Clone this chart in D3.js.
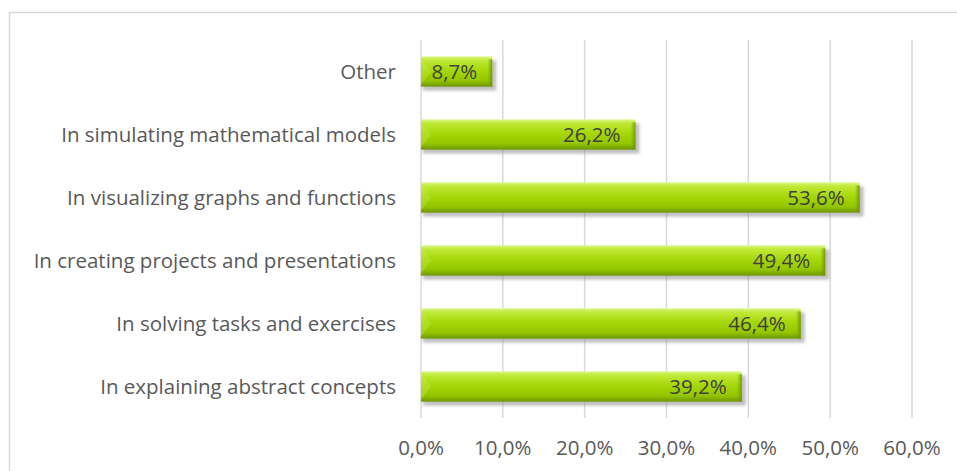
<!DOCTYPE html>
<html>
<head>
<meta charset="utf-8">
<script src="https://cdn.jsdelivr.net/npm/d3@7"></script>
<style>
  html, body { margin: 0; padding: 0; background: #fff; }
  svg text { font-family: "Open Sans", "Lato", sans-serif; }
</style>
</head>
<body>
<svg id="chart"></svg>
<script>
// data
const categories = [
  "Other",
  "In simulating mathematical models",
  "In visualizing graphs and functions",
  "In creating projects and presentations",
  "In solving tasks and exercises",
  "In explaining abstract concepts"
];
const values = [8.7, 26.2, 53.6, 49.4, 46.4, 39.2];
const ticks = [0, 10, 20, 30, 40, 50, 60];

const W = 957, H = 471;
const plot = { left: 421, right: 912, top: 40, bottom: 418 };
const fontSize = 20.5;

const svg = d3.select("#chart").attr("width", W).attr("height", H);

// chart frame (clipped by the window on the right and bottom)
svg.append("rect")
  .attr("x", 9.5).attr("y", 12.5)
  .attr("width", W + 10).attr("height", H + 10)
  .attr("fill", "#fff")
  .attr("stroke", "#d9d9d9").attr("stroke-width", 1.5);

const defs = svg.append("defs");
const grad = defs.append("linearGradient")
  .attr("id", "barGrad").attr("x1", 0).attr("y1", 0).attr("x2", 0).attr("y2", 1);
[["0%", "#dcf78a"], ["12%", "#c0ea3a"], ["45%", "#a6d80a"], ["80%", "#94c600"], ["100%", "#6f9600"]]
  .forEach(s => grad.append("stop").attr("offset", s[0]).attr("stop-color", s[1]));

const endGrad = defs.append("linearGradient")
  .attr("id", "endGrad").attr("x1", 0).attr("y1", 0).attr("x2", 1).attr("y2", 0);
endGrad.append("stop").attr("offset", "0%").attr("stop-color", "#7fa800").attr("stop-opacity", 0);
endGrad.append("stop").attr("offset", "100%").attr("stop-color", "#6a8f00").attr("stop-opacity", 0.9);

const blur = defs.append("filter").attr("id", "shadow")
  .attr("x", "-10%").attr("y", "-30%").attr("width", "130%").attr("height", "180%");
blur.append("feGaussianBlur").attr("stdDeviation", 1.8);

const x = d3.scaleLinear().domain([0, 60]).range([plot.left, plot.right]);
const y = d3.scaleBand().domain(categories).range([plot.top, plot.bottom]).paddingInner(0.52).paddingOuter(0.26);

// gridlines
svg.append("g")
  .selectAll("line")
  .data(ticks)
  .join("line")
  .attr("x1", d => x(d)).attr("x2", d => x(d))
  .attr("y1", plot.top).attr("y2", plot.bottom)
  .attr("stroke", "#d9d9d9").attr("stroke-width", 1.5);

// x axis tick labels
svg.append("g")
  .selectAll("text")
  .data(ticks)
  .join("text")
  .attr("x", d => x(d))
  .attr("y", 455)
  .attr("text-anchor", "middle")
  .attr("font-size", fontSize)
  .attr("fill", "#595959")
  .text(d => d3.format(".1f")(d).replace(".", ",") + "%");

// category labels
svg.append("g")
  .selectAll("text")
  .data(categories)
  .join("text")
  .attr("x", 396)
  .attr("y", d => y(d) + y.bandwidth() / 2)
  .attr("dy", "0.35em")
  .attr("text-anchor", "end")
  .attr("font-size", fontSize)
  .attr("fill", "#595959")
  .text(d => d);

const bars = svg.append("g")
  .selectAll("g")
  .data(categories.map((c, i) => ({ c, v: values[i] })))
  .join("g");

// soft shadow
bars.append("rect")
  .attr("x", x(0) + 2)
  .attr("y", d => y(d.c) + 4)
  .attr("width", d => x(d.v) - x(0) + 2)
  .attr("height", y.bandwidth())
  .attr("fill", "#8c8c8c")
  .attr("opacity", 0.55)
  .attr("filter", "url(#shadow)");

bars.append("rect")
  .attr("x", x(0))
  .attr("y", d => y(d.c))
  .attr("width", d => x(d.v) - x(0))
  .attr("height", y.bandwidth())
  .attr("fill", "url(#barGrad)");

// bevelled right end
bars.append("rect")
  .attr("x", d => x(d.v) - 5)
  .attr("y", d => y(d.c) + 3)
  .attr("width", 5)
  .attr("height", y.bandwidth() - 3)
  .attr("fill", "url(#endGrad)");

// lighter left bevel
bars.append("path")
  .attr("d", d => {
    const y0 = y(d.c), h = y.bandwidth(), x0 = x(0);
    return `M${x0},${y0 + 2}L${x0 + 10},${y0 + h / 2}L${x0},${y0 + h - 2}Z`;
  })
  .attr("fill", "#c8ee5a")
  .attr("opacity", 0.35);

// value labels
bars.append("text")
  .attr("x", d => x(d.v) - 15)
  .attr("y", d => y(d.c) + y.bandwidth() / 2)
  .attr("dy", "0.36em")
  .attr("text-anchor", "end")
  .attr("font-size", fontSize)
  .attr("fill", "#404040")
  .text(d => d3.format(".1f")(d.v).replace(".", ",") + "%");
</script>
</body>
</html>
